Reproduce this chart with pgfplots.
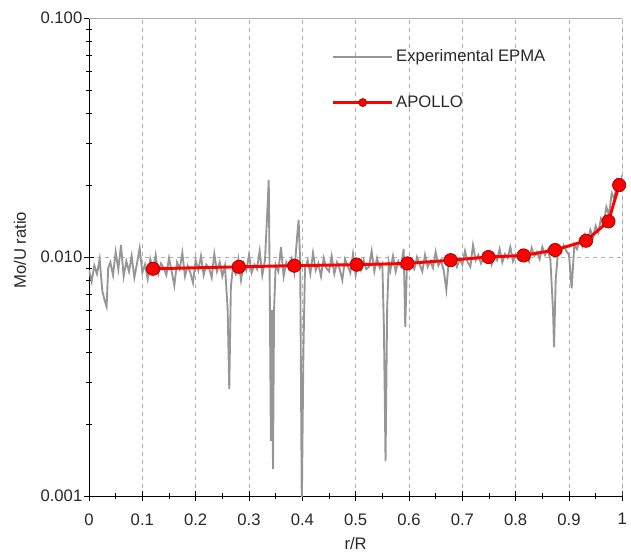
\documentclass[border=0pt]{standalone}
\usepackage{fontspec}
\setmainfont{Liberation Sans}
\usepackage{pgfplots}
\pgfplotsset{compat=1.18}
\definecolor{expgray}{RGB}{150,150,150}
\definecolor{gridgray}{RGB}{175,175,175}
\definecolor{apred}{RGB}{255,0,0}
\definecolor{apdark}{RGB}{150,0,0}
\definecolor{txt}{RGB}{40,40,40}
\begin{document}
\begin{tikzpicture}[x=1pt,y=1pt]
\begin{axis}[
  at={(0,0)}, anchor=south west,
  scale only axis, width=400pt, height=358.5pt,
  xmin=0, xmax=1, ymode=log, ymin=0.001, ymax=0.1,
  axis x line*=bottom, axis y line*=left,
  axis line style={black, line width=0.6pt},
  xtick={0,0.1,0.2,0.3,0.4,0.5,0.6,0.7,0.8,0.9,1},
  xticklabels={0,0.1,0.2,0.3,0.4,0.5,0.6,0.7,0.8,0.9,1},
  minor x tick num=1,
  ytick={0.001,0.01,0.1},
  yticklabels={0.001,0.010,0.100},
  tick align=center,
  major tick length=7pt, minor tick length=5pt,
  tick style={black, line width=0.6pt},
  xmajorgrids, ymajorgrids,
  grid style={gridgray, dashed, line width=0.5pt},
  /pgf/number format/assume math mode=true,
  ticklabel style={font=\fontsize{12.5}{14}\selectfont, text=txt},
  xticklabel style={yshift=-6pt},
  yticklabel style={xshift=2pt},
  label style={font=\fontsize{12.5}{14}\selectfont, text=txt},
  xlabel={r/R}, ylabel={Mo/U ratio},
  xlabel style={yshift=-2pt},
  ylabel style={yshift=4pt, xshift=5pt},
  legend style={at={(rel axis cs:0.455,0.94)}, anchor=north west, draw=none, fill=none,
    font=\fontsize{12.5}{14}\selectfont, text=txt, row sep=20pt, inner sep=0pt,
    nodes={inner sep=2pt}},
  legend cell align=left,
  legend image code/.code={\draw[mark repeat=2,mark phase=2,#1,mark size=3pt] plot coordinates {(0pt,0pt) (22pt,0pt) (44pt,0pt)};},
]
\addplot[expgray, line width=1.4pt, no marks] coordinates {
(0.000,0.0088) (0.005,0.0079) (0.010,0.0092) (0.015,0.0085) (0.020,0.0098) (0.025,0.0072)
(0.030,0.0065) (0.033,0.0062) (0.036,0.0090) (0.040,0.0095) (0.045,0.0084) (0.050,0.0105)
(0.055,0.0089) (0.060,0.0112) (0.065,0.0083) (0.070,0.0096) (0.075,0.0087) (0.080,0.0101)
(0.085,0.0082) (0.090,0.0094) (0.095,0.0109) (0.100,0.0086) (0.105,0.0093) (0.110,0.0081)
(0.115,0.0098) (0.120,0.0088) (0.125,0.0102) (0.130,0.0085) (0.135,0.0094) (0.140,0.0090)
(0.145,0.0084) (0.150,0.0099) (0.155,0.0087) (0.160,0.0076) (0.165,0.0095) (0.170,0.0089)
(0.175,0.0104) (0.180,0.0083) (0.185,0.0092) (0.190,0.0086) (0.195,0.0078) (0.200,0.0097)
(0.205,0.0088) (0.210,0.0101) (0.215,0.0084) (0.220,0.0093) (0.225,0.0090) (0.230,0.0082)
(0.235,0.0103) (0.240,0.0087) (0.245,0.0095) (0.250,0.0083) (0.255,0.0092) (0.260,0.0060)
(0.263,0.0028) (0.266,0.0075) (0.270,0.0091) (0.275,0.0085) (0.280,0.0098) (0.285,0.0080)
(0.290,0.0094) (0.295,0.0088) (0.300,0.0102) (0.305,0.0086) (0.310,0.0093) (0.315,0.0089)
(0.320,0.0106) (0.325,0.0084) (0.330,0.0097) (0.334,0.0150) (0.337,0.0210) (0.339,0.0070)
(0.341,0.0017) (0.343,0.0060) (0.345,0.0013) (0.347,0.0060) (0.350,0.0093) (0.355,0.0087)
(0.360,0.0110) (0.365,0.0083) (0.370,0.0095) (0.375,0.0089) (0.380,0.0098) (0.385,0.0086)
(0.390,0.0120) (0.393,0.0143) (0.396,0.0095) (0.399,0.0009) (0.402,0.0040) (0.405,0.0090)
(0.410,0.0097) (0.415,0.0085) (0.420,0.0104) (0.425,0.0088) (0.430,0.0094) (0.435,0.0083)
(0.440,0.0099) (0.445,0.0090) (0.450,0.0087) (0.455,0.0101) (0.460,0.0085) (0.465,0.0095)
(0.470,0.0089) (0.475,0.0080) (0.480,0.0098) (0.485,0.0092) (0.490,0.0086) (0.495,0.0103)
(0.500,0.0084) (0.505,0.0094) (0.510,0.0088) (0.515,0.0097) (0.520,0.0089) (0.525,0.0091)
(0.530,0.0106) (0.535,0.0087) (0.540,0.0099) (0.545,0.0090) (0.550,0.0094) (0.553,0.0050)
(0.556,0.0014) (0.559,0.0060) (0.562,0.0095) (0.565,0.0088) (0.570,0.0101) (0.575,0.0087)
(0.580,0.0096) (0.585,0.0091) (0.590,0.0108) (0.593,0.0051) (0.596,0.0090) (0.600,0.0098)
(0.605,0.0092) (0.610,0.0089) (0.615,0.0100) (0.620,0.0093) (0.625,0.0087) (0.630,0.0102)
(0.635,0.0091) (0.640,0.0096) (0.645,0.0090) (0.650,0.0105) (0.655,0.0092) (0.660,0.0097)
(0.665,0.0088) (0.670,0.0073) (0.675,0.0099) (0.680,0.0094) (0.685,0.0100) (0.690,0.0091)
(0.695,0.0098) (0.700,0.0093) (0.705,0.0106) (0.710,0.0095) (0.715,0.0091) (0.720,0.0112)
(0.725,0.0097) (0.730,0.0102) (0.735,0.0094) (0.740,0.0099) (0.745,0.0096) (0.750,0.0104)
(0.755,0.0093) (0.760,0.0101) (0.765,0.0097) (0.770,0.0108) (0.775,0.0095) (0.780,0.0103)
(0.785,0.0099) (0.790,0.0110) (0.795,0.0096) (0.800,0.0102) (0.805,0.0098) (0.810,0.0106)
(0.815,0.0099) (0.820,0.0103) (0.825,0.0096) (0.830,0.0109) (0.835,0.0101) (0.840,0.0105)
(0.845,0.0098) (0.850,0.0110) (0.855,0.0102) (0.860,0.0107) (0.865,0.0098) (0.870,0.0060)
(0.872,0.0042) (0.875,0.0080) (0.880,0.0109) (0.885,0.0104) (0.890,0.0112) (0.895,0.0106)
(0.900,0.0102) (0.905,0.0074) (0.908,0.0095) (0.910,0.0113) (0.915,0.0108) (0.920,0.0118)
(0.925,0.0111) (0.930,0.0124) (0.935,0.0116) (0.940,0.0130) (0.945,0.0121) (0.950,0.0135)
(0.955,0.0127) (0.960,0.0145) (0.965,0.0138) (0.970,0.0162) (0.975,0.0150) (0.980,0.0185)
(0.985,0.0175) (0.990,0.0210) (0.995,0.0200) (1.000,0.0220)
};
\addlegendentry{Experimental EPMA}
\addplot[apred, line width=2.2pt, mark=*, mark size=5pt,
  mark options={fill=apred, draw=apdark, line width=0.5pt}] coordinates {
(0.120,0.00893) (0.281,0.00910) (0.385,0.00920) (0.502,0.00929) (0.597,0.00940)
(0.678,0.00970) (0.749,0.01000) (0.815,0.01015) (0.874,0.01070) (0.932,0.01170)
(0.974,0.01410) (0.994,0.02000)
};
\addlegendentry{APOLLO}
\draw[gridgray, line width=0.6pt] (rel axis cs:0,1) -- (rel axis cs:1,1) -- (rel axis cs:1,0);
\end{axis}
\pgfresetboundingbox
\path (-66.75pt,-43.5pt) rectangle (406.5pt,372pt);
\end{tikzpicture}
\end{document}
